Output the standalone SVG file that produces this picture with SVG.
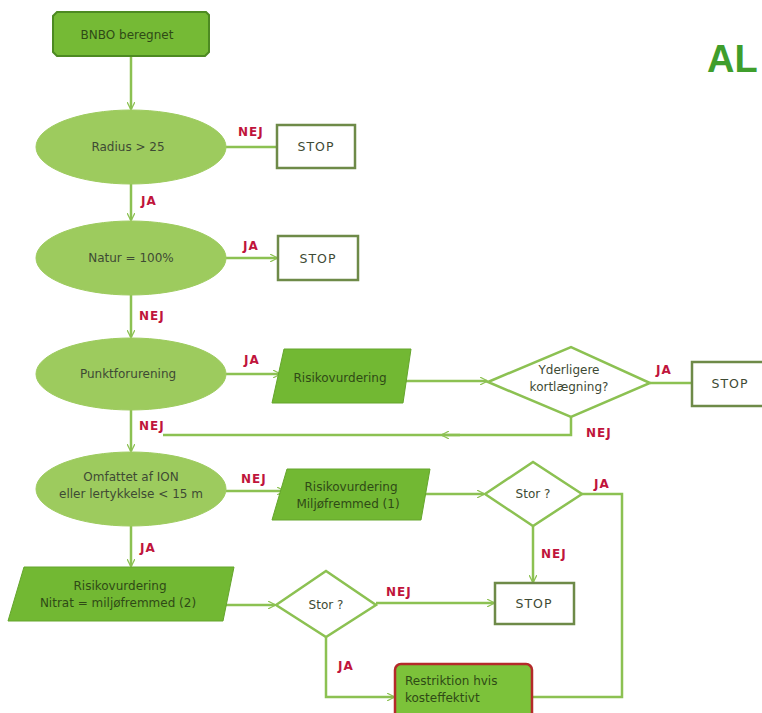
<svg xmlns="http://www.w3.org/2000/svg" width="762" height="713" viewBox="0 0 762 713">
<defs>
<marker id="arr" viewBox="0 0 10 10" refX="9" refY="5" markerWidth="8" markerHeight="8" orient="auto" markerUnits="userSpaceOnUse">
<path d="M0,0 L10,5 L0,10" fill="none" stroke="#8cc152" stroke-width="1.6"/>
</marker>
<style>
.ell{fill:#9dcb5e;stroke:#9dcb5e;}
.par{fill:#72b833;stroke:#64a52c;stroke-width:1;}
.stop{fill:#ffffff;stroke:#6e8a48;stroke-width:2.5;}
.dia{fill:#ffffff;stroke:#8cc152;stroke-width:2.5;}
.con{fill:none;stroke:#8cc152;stroke-width:2.5;}
.t{font-family:"DejaVu Sans",Verdana,sans-serif;font-size:12px;fill:#3e4a34;text-anchor:middle;}
.ts{font-family:"DejaVu Sans",Verdana,sans-serif;font-size:12.5px;letter-spacing:1px;fill:#3e4a34;text-anchor:middle;}
.tg{font-family:"DejaVu Sans",Verdana,sans-serif;font-size:12px;fill:#2f4a16;text-anchor:middle;}
.lab{font-family:"DejaVu Sans",Verdana,sans-serif;font-size:12px;font-weight:bold;letter-spacing:1px;fill:#c0143c;}
</style>
</defs>
<rect width="762" height="713" fill="#ffffff"/>
<text x="707" y="72" font-family="Liberation Sans,Arial,sans-serif" font-size="38" font-weight="bold" fill="#3f9e2c">AL</text>

<g id="connectors">
<line class="con" x1="131" y1="56" x2="131" y2="109" marker-end="url(#arr)"/>
<line class="con" x1="226" y1="147" x2="277" y2="147"/>
<line class="con" x1="131" y1="183" x2="131" y2="220" marker-end="url(#arr)"/>
<line class="con" x1="226" y1="258" x2="277" y2="258" marker-end="url(#arr)"/>
<line class="con" x1="131" y1="295" x2="131" y2="337" marker-end="url(#arr)"/>
<line class="con" x1="226" y1="374" x2="280" y2="374" marker-end="url(#arr)"/>
<line class="con" x1="406" y1="381" x2="487" y2="381" marker-end="url(#arr)"/>
<line class="con" x1="650" y1="383" x2="692" y2="383"/>
<polyline class="con" points="571,417 571,435 163,435"/>
<line class="con" x1="460" y1="435" x2="442" y2="435" marker-end="url(#arr)"/>
<line class="con" x1="131" y1="410" x2="131" y2="451" marker-end="url(#arr)"/>
<line class="con" x1="226" y1="491" x2="284" y2="491" marker-end="url(#arr)"/>
<line class="con" x1="423" y1="494" x2="484" y2="494" marker-end="url(#arr)"/>
<polyline class="con" points="582,494 622,494 622,697 533,697"/>
<line class="con" x1="533" y1="526" x2="533" y2="582" marker-end="url(#arr)"/>
<line class="con" x1="131" y1="526" x2="131" y2="566" marker-end="url(#arr)"/>
<line class="con" x1="224" y1="605" x2="275" y2="605" marker-end="url(#arr)"/>
<line class="con" x1="376" y1="603" x2="494" y2="603" marker-end="url(#arr)"/>
<polyline class="con" points="326,637 326,697 394,697" marker-end="url(#arr)"/>
</g>

<g id="labels">
<text class="lab" x="238" y="136">NEJ</text>
<text class="lab" x="141" y="205">JA</text>
<text class="lab" x="243" y="250">JA</text>
<text class="lab" x="139" y="320">NEJ</text>
<text class="lab" x="244" y="364">JA</text>
<text class="lab" x="656" y="374">JA</text>
<text class="lab" x="586" y="437">NEJ</text>
<text class="lab" x="139" y="430">NEJ</text>
<text class="lab" x="241" y="483">NEJ</text>
<text class="lab" x="594" y="488">JA</text>
<text class="lab" x="541" y="558">NEJ</text>
<text class="lab" x="140" y="552">JA</text>
<text class="lab" x="386" y="596">NEJ</text>
<text class="lab" x="338" y="670">JA</text>
</g>

<g id="start">
<path d="M57,12 H206 L209,15 V52 L205,56 H57 L53,52 V16 Z" fill="#75ba35" stroke="#4d8a22" stroke-width="2"/>
<text class="tg" x="127" y="39">BNBO beregnet</text>
</g>
<g id="radius">
<ellipse class="ell" cx="131" cy="147" rx="95" ry="37"/>
<text class="t" x="128" y="151">Radius &gt; 25</text>
</g>
<g id="stop1">
<rect class="stop" x="277" y="125" width="78" height="43"/>
<text class="ts" x="316" y="151">STOP</text>
</g>
<g id="natur">
<ellipse class="ell" cx="131" cy="258" rx="95" ry="37"/>
<text class="t" x="131" y="262">Natur = 100%</text>
</g>
<g id="stop2">
<rect class="stop" x="278" y="236" width="80" height="44"/>
<text class="ts" x="318" y="263">STOP</text>
</g>
<g id="punkt">
<ellipse class="ell" cx="131" cy="374" rx="95" ry="36"/>
<text class="t" x="128" y="378">Punktforurening</text>
</g>
<g id="risiko1">
<polygon class="par" points="284,349 411,349 403,403 272,403"/>
<text class="tg" x="340" y="382">Risikovurdering</text>
</g>
<g id="yderligere">
<polygon class="dia" points="488,382 571,347 650,383 571,417"/>
<text class="t" x="569" y="374">Yderligere</text>
<text class="t" x="569" y="391">kortlægning?</text>
</g>
<g id="stop3">
<rect class="stop" x="692" y="362" width="74" height="44"/>
<text class="ts" x="730" y="388">STOP</text>
</g>
<g id="omfattet">
<ellipse class="ell" cx="131" cy="489" rx="95" ry="37"/>
<text class="t" x="131" y="481">Omfattet af ION</text>
<text class="t" x="131" y="498">eller lertykkelse &lt; 15 m</text>
</g>
<g id="risiko2">
<polygon class="par" points="287,469 430,469 421,520 272,520"/>
<text class="tg" x="351" y="491">Risikovurdering</text>
<text class="tg" x="348" y="508">Miljøfremmed (1)</text>
</g>
<g id="stor1">
<polygon class="dia" points="485,494 533,462 582,494 533,526"/>
<text class="t" x="533" y="498">Stor ?</text>
</g>
<g id="stop4">
<rect class="stop" x="495" y="583" width="79" height="41"/>
<text class="ts" x="534" y="608">STOP</text>
</g>
<g id="risiko3">
<polygon class="par" points="24,567 234,567 223,621 8,621"/>
<text class="tg" x="120" y="590">Risikovurdering</text>
<text class="tg" x="118" y="607">Nitrat = miljøfremmed (2)</text>
</g>
<g id="stor2">
<polygon class="dia" points="276,605 326,571 376,605 326,637"/>
<text class="t" x="326" y="609">Stor ?</text>
</g>
<g id="restriktion">
<rect x="395" y="664" width="137" height="56" rx="6" fill="#7cc23a" stroke="#b42a2a" stroke-width="2.5"/>
<text class="tg" x="405" y="685" style="text-anchor:start">Restriktion hvis</text>
<text class="tg" x="405" y="702" style="text-anchor:start">kosteffektivt</text>
</g>
</svg>
